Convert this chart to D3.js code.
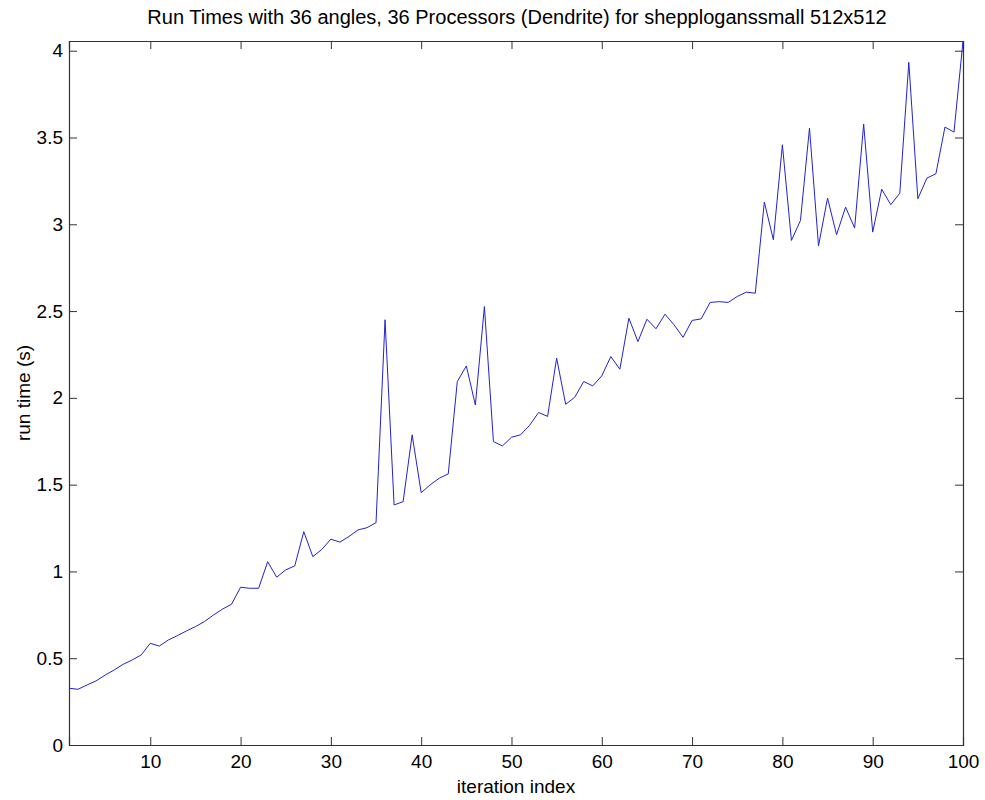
<!DOCTYPE html>
<html>
<head>
<meta charset="utf-8">
<script src="https://cdn.jsdelivr.net/npm/d3@7"></script>
<style>
  body { margin: 0; background: #fff; }
  text { font-family: "Liberation Sans", Arial, sans-serif; fill: #000; }
</style>
</head>
<body>
<div id="chart"></div>
<script>
// chart data
var chartTitle = "Run Times with 36 angles, 36 Processors (Dendrite) for shepploganssmall 512x512";
var xLabel = "iteration index";
var yLabel = "run time (s)";

var iterations = d3.range(1, 101);
var runTimes = [
    0.327, 0.321, 0.346, 0.369, 0.403, 0.432, 0.465, 0.490, 0.519, 0.586,
    0.570, 0.605, 0.630, 0.657, 0.682, 0.711, 0.749, 0.783, 0.811, 0.909,
    0.903, 0.903, 1.056, 0.967, 1.009, 1.032, 1.229, 1.085, 1.127, 1.186,
    1.169, 1.201, 1.239, 1.252, 1.281, 2.450, 1.383, 1.402, 1.787, 1.454,
    1.499, 1.537, 1.562, 2.094, 2.184, 1.959, 2.526, 1.748, 1.723, 1.773,
    1.787, 1.841, 1.916, 1.893, 2.229, 1.963, 2.003, 2.094, 2.069, 2.127,
    2.238, 2.165, 2.459, 2.324, 2.453, 2.398, 2.482, 2.421, 2.349, 2.446,
    2.455, 2.550, 2.554, 2.550, 2.584, 2.609, 2.603, 3.128, 2.911, 3.458,
    2.907, 3.022, 3.554, 2.876, 3.151, 2.940, 3.099, 2.978, 3.577, 2.955,
    3.202, 3.113, 3.179, 3.933, 3.147, 3.266, 3.291, 3.560, 3.531, 4.056
];
var xTicks = [10, 20, 30, 40, 50, 60, 70, 80, 90, 100];
var yTicks = [0, 0.5, 1, 1.5, 2, 2.5, 3, 3.5, 4];

var width = 985, height = 800;
var margin = { top: 41, right: 22, bottom: 55, left: 69 };
var w = width - margin.left - margin.right;
var h = height - margin.top - margin.bottom;
var fontSize = "19px";

var svg = d3.select("#chart").append("svg")
    .attr("width", width)
    .attr("height", height);

var g = svg.append("g")
    .attr("transform", "translate(" + margin.left + "," + margin.top + ")");

var x = d3.scaleLinear().domain([1, 100]).range([0, w]);
var y = d3.scaleLinear().domain([0, d3.max(runTimes)]).range([h, 0]);

var tickLen = 8;

// bottom and left axes with labels, ticks pointing inward
g.append("g")
    .attr("transform", "translate(0," + h + ")")
    .call(d3.axisBottom(x).tickValues(xTicks).tickSize(-tickLen).tickPadding(10).tickFormat(d3.format("d")))
    .call(styleAxis);

g.append("g")
    .call(d3.axisLeft(y).tickValues(yTicks).tickSize(-tickLen).tickPadding(6).tickFormat(function (d) { return String(d); }))
    .call(styleAxis);

// top and right axes, ticks only (box)
g.append("g")
    .call(d3.axisTop(x).tickValues(xTicks).tickSize(-tickLen).tickFormat(""))
    .call(styleAxis);

g.append("g")
    .attr("transform", "translate(" + w + ",0)")
    .call(d3.axisRight(y).tickValues(yTicks).tickSize(-tickLen).tickFormat(""))
    .call(styleAxis);

function styleAxis(sel) {
    sel.select(".domain").attr("stroke", "#333").attr("stroke-width", 1.2);
    sel.selectAll(".tick line").attr("stroke", "#333");
    sel.selectAll(".tick text").style("font-size", fontSize);
}

// the run time line
var line = d3.line()
    .x(function (d, i) { return x(iterations[i]); })
    .y(function (d) { return y(d); });

g.append("path")
    .datum(runTimes)
    .attr("fill", "none")
    .attr("stroke", "#2222cc")
    .attr("stroke-width", 1)
    .attr("d", line);

// title and axis labels
svg.append("text")
    .attr("x", 517)
    .attr("y", 24)
    .attr("text-anchor", "middle")
    .style("font-size", "20px")
    .text(chartTitle);

svg.append("text")
    .attr("x", margin.left + w / 2)
    .attr("y", 793)
    .attr("text-anchor", "middle")
    .style("font-size", fontSize)
    .text(xLabel);

svg.append("text")
    .attr("transform", "translate(30," + (margin.top + h / 2) + ") rotate(-90)")
    .attr("text-anchor", "middle")
    .style("font-size", fontSize)
    .text(yLabel);
</script>
</body>
</html>
